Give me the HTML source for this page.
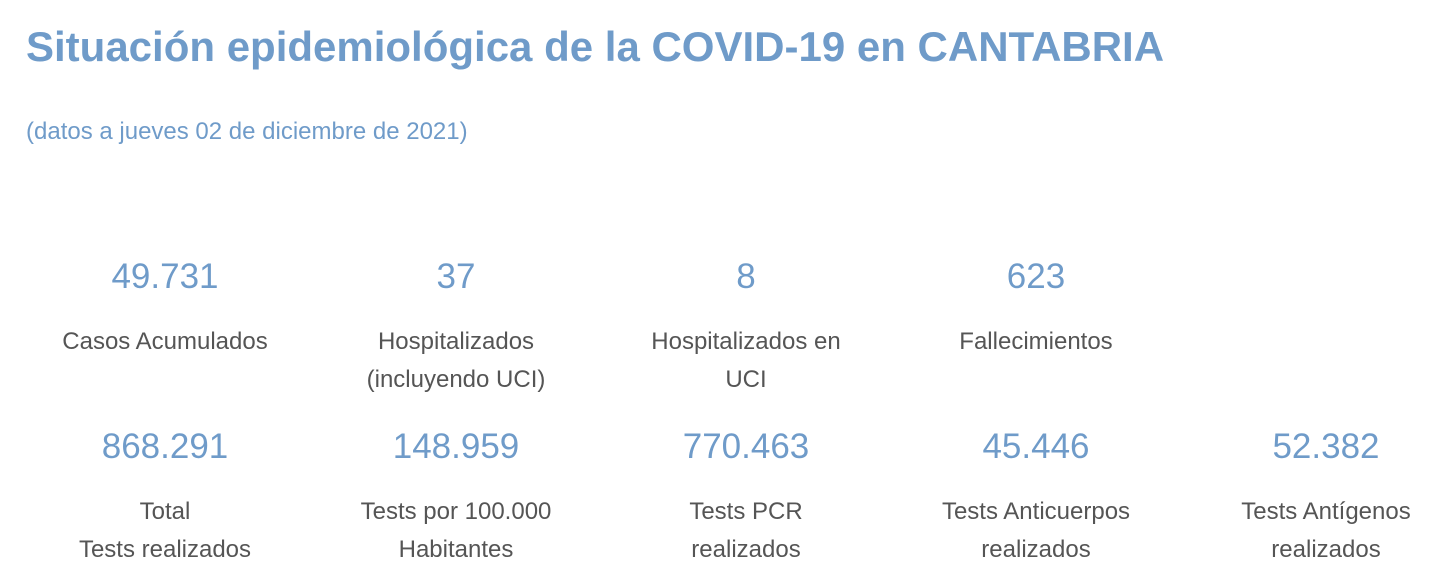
<!DOCTYPE html>
<html><head><meta charset="utf-8"><style>
html,body{margin:0;padding:0;background:#fff;width:1450px;height:574px;overflow:hidden;position:relative;font-family:"Liberation Sans",sans-serif}
.t{position:absolute;white-space:nowrap}
.title{left:26px;top:26px;font-size:42px;font-weight:bold;color:#6f9bc9;line-height:1}
.sub{left:26px;top:120px;font-size:24px;color:#6f9bc9;line-height:1}
.n{position:absolute;width:290px;text-align:center;font-size:35px;color:#6f9bc9;line-height:1}
.l{position:absolute;width:290px;text-align:center;font-size:24px;color:#555;line-height:38px}
</style></head><body>
<div class="t title">Situación epidemiológica de la COVID-19 en CANTABRIA</div>
<div class="t sub">(datos a jueves 02 de diciembre de 2021)</div>

<div class="n" style="left:20px;top:259px">49.731</div>
<div class="n" style="left:311px;top:259px">37</div>
<div class="n" style="left:601px;top:259px">8</div>
<div class="n" style="left:891px;top:259px">623</div>

<div class="l" style="left:20px;top:323px">Casos Acumulados</div>
<div class="l" style="left:311px;top:323px">Hospitalizados<br>(incluyendo UCI)</div>
<div class="l" style="left:601px;top:323px">Hospitalizados en<br>UCI</div>
<div class="l" style="left:891px;top:323px">Fallecimientos</div>

<div class="n" style="left:20px;top:429px">868.291</div>
<div class="n" style="left:311px;top:429px">148.959</div>
<div class="n" style="left:601px;top:429px">770.463</div>
<div class="n" style="left:891px;top:429px">45.446</div>
<div class="n" style="left:1181px;top:429px">52.382</div>

<div class="l" style="left:20px;top:493px">Total<br>Tests realizados</div>
<div class="l" style="left:311px;top:493px">Tests por 100.000<br>Habitantes</div>
<div class="l" style="left:601px;top:493px">Tests PCR<br>realizados</div>
<div class="l" style="left:891px;top:493px">Tests Anticuerpos<br>realizados</div>
<div class="l" style="left:1181px;top:493px">Tests Antígenos<br>realizados</div>
</body></html>
